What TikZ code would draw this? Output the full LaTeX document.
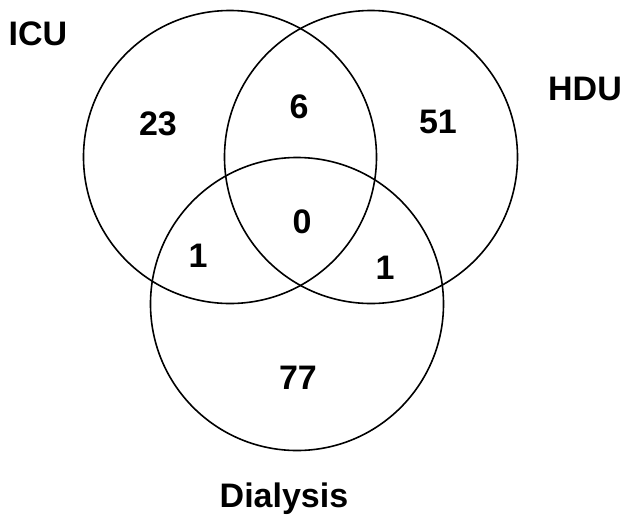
\documentclass[tikz,border=0pt]{standalone}
\usepackage{fontspec}
\setmainfont{Liberation Sans}
\begin{document}
\begin{tikzpicture}[x=1pt,y=-1pt,
  setcircle/.style={circle,draw=black,line width=1.6pt,inner sep=0pt,minimum size=293pt},
  lbl/.style={anchor=base,inner sep=0pt,font=\fontsize{34}{40}\selectfont\bfseries}]
\useasboundingbox (0,0) rectangle (622,515);
\node[setcircle] (icu) at (230,157) {};
\node[setcircle] (hdu) at (371,157) {};
\node[setcircle] (dia) at (297,304) {};
\node[lbl] (ticu) at (38,45) {ICU};
\node[lbl] (thdu) at (585,100) {HDU};
\node[lbl] (tdia) at (284,507) {Dialysis};
\node[lbl] (n23) at (158,135) {23};
\node[lbl] (n6) at (299,118) {6};
\node[lbl] (n51) at (438,133) {51};
\node[lbl] (n0) at (302,233) {0};
\node[lbl] (n1a) at (198,267) {1};
\node[lbl] (n1b) at (385,279) {1};
\node[lbl] (n77) at (298,389) {77};
\end{tikzpicture}
\end{document}
